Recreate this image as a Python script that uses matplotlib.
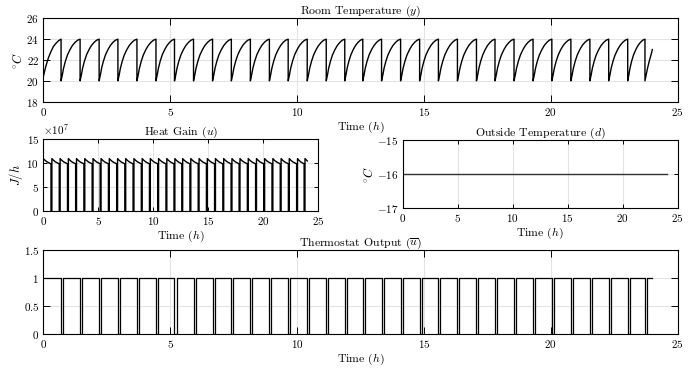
import numpy as np
import matplotlib.pyplot as plt
from matplotlib.ticker import FuncFormatter

plt.rcParams['font.family'] = ['cmr10']
plt.rcParams['mathtext.fontset'] = 'cm'
plt.rcParams['axes.formatter.use_mathtext'] = True
plt.rcParams['font.size'] = 8

# switching instants of the thermostat (h)
drop_times = [0.70, 1.45, 2.20, 2.94, 3.69, 4.44, 5.17, 5.92, 6.67, 7.41, 8.16, 8.91,
              9.65, 10.40, 11.15, 11.88, 12.59, 13.33, 14.08, 14.83, 15.57, 16.32,
              17.07, 17.80, 18.55, 19.30, 20.04, 20.79, 21.54, 22.28, 23.03, 23.71]
t_end = 24.0
off_width = 0.08  # h the heater stays off at each switch

# room temperature (degC) over one cycle, at fractions of the cycle length
cycle_frac = [0.0, 0.07, 0.13, 0.23, 0.34, 0.47, 0.60, 0.74, 0.87, 1.0]
cycle_temp = [20.0, 20.6, 21.2, 21.9, 22.5, 23.0, 23.4, 23.7, 23.9, 24.0]
# first (shorter) cycle and last partial cycle
first_t = [0.0, 0.1, 0.2, 0.3, 0.4, 0.5, 0.6, 0.70]
first_temp = [20.4, 21.4, 22.2, 22.8, 23.3, 23.6, 23.85, 24.0]
last_t = [23.71, 23.76, 23.81, 23.88, 23.95, 24.0]
last_temp = [20.0, 20.6, 21.2, 21.9, 22.5, 23.0]

# heat gain (x1e7 J/h) over one "on" period, at fractions of its length
heat_frac = [0.0, 0.25, 0.5, 0.75, 1.0]
heat_val = [10.9, 10.5, 10.2, 10.0, 9.8]
last_heat_t = [23.79, 24.0]
last_heat = [10.9, 10.4]

# outside temperature (degC)
out_t = [0.0, 24.0]
out_temp = [-16.0, -16.0]


def _room_temperature():
    t, y = list(first_t), list(first_temp)
    for d0, d1 in zip(drop_times[:-1], drop_times[1:]):
        t += [d0 + f * (d1 - d0) for f in cycle_frac]
        y += cycle_temp
    return t + last_t, y + last_temp


def _heat_gain():
    t, u = [], []
    starts = [0.0] + [d + off_width for d in drop_times[:-1]]
    for s, e in zip(starts, drop_times):
        t += [s + f * (e - s) for f in heat_frac] + [e, e + off_width]
        u += heat_val + [0.0, 0.0]
    t += last_heat_t
    u += last_heat
    return np.array(t), np.array(u) * 1e7


def _thermostat():
    t, v = [0.0], [1.0]
    for d in drop_times:
        t += [d, d, d + off_width, d + off_width]
        v += [1, 0, 0, 1]
    return t + [t_end], v + [1]


def _style(ax, ticklen):
    ax.set_xlim(0, 25)
    ax.set_xticks(range(0, 26, 5))
    ax.grid(True, color='#e3e3e3', linewidth=0.8)
    ax.set_axisbelow(True)
    ax.tick_params(direction='in', top=True, right=True, length=ticklen,
                   width=0.7, labelsize=8, pad=3)
    for sp in ax.spines.values():
        sp.set_linewidth(0.8)


fig = plt.figure(figsize=(7.0, 3.68), dpi=100)
W, H = 700.0, 368.0


def _axes(left, top, right, bottom):
    return fig.add_axes([left / W, 1 - bottom / H, (right - left) / W, (bottom - top) / H])


ax1 = _axes(43.3, 18.3, 677.7, 101.7)
t, y = _room_temperature()
ax1.plot(t, y, color='black', linewidth=1.0)
ax1.set_ylim(18, 26)
ax1.set_yticks([18, 20, 22, 24, 26])
_style(ax1, 5)
ax1.set_title('Room Temperature ($y$)', fontsize=8.5, pad=3)
ax1.set_xlabel('Time ($h$)', fontsize=8.5, labelpad=1)
ax1.set_ylabel(r'$^{\circ}C$', fontsize=9, labelpad=1)

ax2 = _axes(43.3, 139.0, 318.3, 210.7)
t, u = _heat_gain()
ax2.plot(t, u, color='black', linewidth=1.0)
ax2.set_ylim(0, 15e7)
ax2.set_yticks([0, 5e7, 10e7, 15e7])
ax2.ticklabel_format(axis='y', style='sci', scilimits=(7, 7))
_style(ax2, 3)
ax2.set_title('Heat Gain ($u$)', fontsize=8.5, pad=3)
ax2.set_xlabel('Time ($h$)', fontsize=8.5, labelpad=1)
ax2.set_ylabel('$J/h$', fontsize=9, labelpad=1)

ax3 = _axes(402.7, 140.0, 677.7, 208.3)
ax3.plot(out_t, out_temp, color='#333333', linewidth=1.0)
ax3.set_ylim(-17, -15)
ax3.set_yticks([-17, -16, -15])
_style(ax3, 3)
ax3.set_title('Outside Temperature ($d$)', fontsize=8.5, pad=3)
ax3.set_xlabel('Time ($h$)', fontsize=8.5, labelpad=1)
ax3.set_ylabel(r'$^{\circ}C$', fontsize=9, labelpad=1)

ax4 = _axes(43.3, 250.0, 677.7, 334.0)
t, v = _thermostat()
ax4.plot(t, v, color='black', linewidth=0.9)
ax4.set_ylim(0, 1.5)
ax4.set_yticks([0, 0.5, 1, 1.5])
ax4.yaxis.set_major_formatter(FuncFormatter(lambda v, pos: r'$\mathdefault{%g}$' % v))
_style(ax4, 5)
ax4.set_title(r'Thermostat Output ($\overline{u}$)', fontsize=8.5, pad=3)
ax4.set_xlabel('Time ($h$)', fontsize=8.5, labelpad=1)

fig.savefig('out.png', dpi=100)
